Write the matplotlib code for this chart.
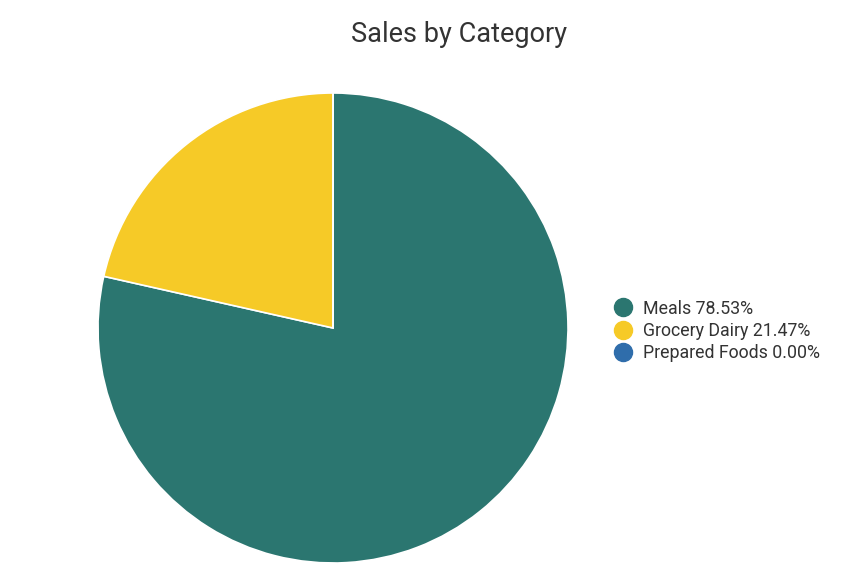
import matplotlib
matplotlib.use("Agg")
import matplotlib.pyplot as plt
from matplotlib.lines import Line2D

plt.rcParams["font.family"] = ["Roboto", "DejaVu Sans"]

categories = ["Meals", "Grocery Dairy", "Prepared Foods"]
shares = [78.53, 21.47, 0.00]
colors = ["#2b7670", "#f6ca27", "#2f6dab"]

fig = plt.figure(figsize=(8.64, 5.82), dpi=100)
ax = fig.add_axes([333 / 864 - 235 / 864, 1 - 563 / 582, 470 / 864, 470 / 582])
ax.pie(shares, colors=colors, startangle=90, counterclock=False,
       wedgeprops=dict(edgecolor="white", linewidth=1.2))
ax.set_xlim(-1.0, 1.0)
ax.set_ylim(-1.0, 1.0)
ax.set_aspect("equal")

fig.text(459 / 864, 1 - 34 / 582, "Sales by Category", ha="center",
         va="center", fontsize=19.5, color="#333333")

handles = [Line2D([], [], marker="o", ls="", markersize=13,
                  markerfacecolor=c, markeredgecolor=c) for c in colors]
labels = [f"{n} {v:.2f}%" for n, v in zip(categories, shares)]
fig.legend(handles, labels, loc="center left",
           bbox_to_anchor=(597 / 864, 1 - 331 / 582), frameon=False,
           fontsize=12.8, handletextpad=0.6, labelspacing=0.25,
           handlelength=1.1, labelcolor="#333333")

fig.savefig("out.png", dpi=100)
